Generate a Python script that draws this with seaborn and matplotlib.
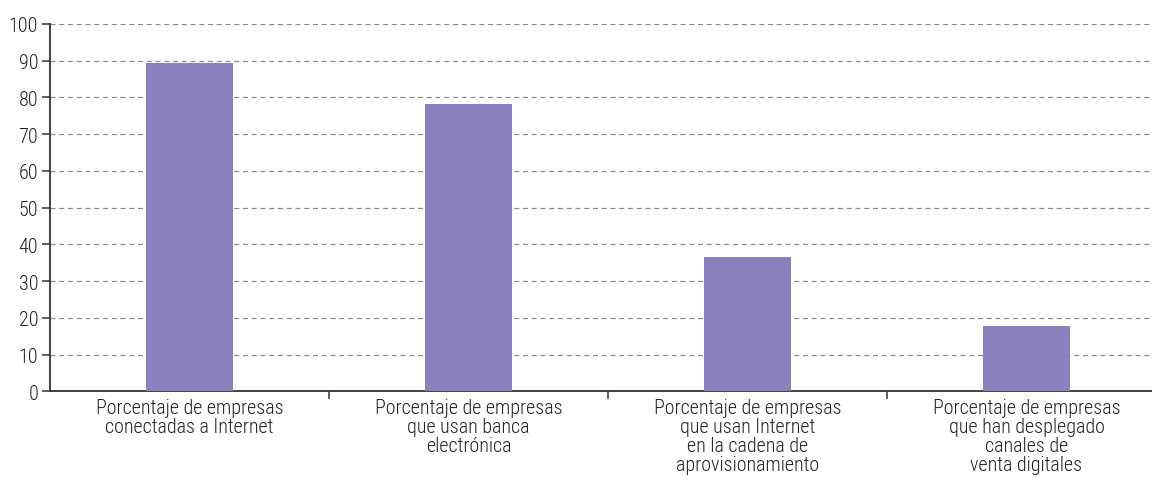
import pandas as pd
import seaborn as sns
import matplotlib.pyplot as plt
from matplotlib.ticker import FixedLocator

# datos
categorias = ['Porcentaje de empresas\nconectadas a Internet',
              'Porcentaje de empresas\nque usan banca\nelectrónica',
              'Porcentaje de empresas\nque usan Internet\nen la cadena de\naprovisionamiento',
              'Porcentaje de empresas\nque han desplegado\ncanales de\nventa digitales']
valores = [89.3, 78.2, 36.6, 17.8]
yticks = list(range(0, 101, 10))

df = pd.DataFrame({'cat': categorias, 'val': valores})

sns.set_style('white')
plt.rcParams['font.family'] = ['Roboto Condensed', 'Archivo Narrow', 'DejaVu Sans']
plt.rcParams['font.weight'] = 'light'

fig = plt.figure(figsize=(11.52, 4.85), dpi=100)
ax = fig.add_axes([50/1152, 92.7/485, 1116/1152, 367.3/485])

sns.barplot(data=df, x='cat', y='val', color='#8781bd', width=0.31,
            saturation=1, linewidth=0, ax=ax, zorder=3)

ax.set_xlim(-0.5, 3.5)
ax.set_ylim(0, 100)
ax.set_yticks(yticks)
ax.set(xlabel=None, ylabel=None)
ax.yaxis.grid(True, linestyle=(0, (4, 3)), color='#8c8c8c', linewidth=0.9, zorder=0)
ax.set_axisbelow(True)

for s in ['top', 'right']:
    ax.spines[s].set_visible(False)
ax.spines['left'].set_color('#333333')
ax.spines['bottom'].set_color('#333333')
ax.spines['left'].set_linewidth(1.3)
ax.spines['bottom'].set_linewidth(1.3)

ax.tick_params(axis='y', left=True, length=6, width=1.1, color='#333333',
               labelsize=14.5, labelcolor='#222222', pad=2.5)
ax.tick_params(axis='x', which='major', length=0, labelsize=14.4,
               labelcolor='#222222', pad=5)
ax.xaxis.set_minor_locator(FixedLocator([0.5, 1.5, 2.5]))
ax.tick_params(axis='x', which='minor', bottom=True, length=6, width=1.1,
               color='#333333')
for t in ax.get_xticklabels():
    t.set_linespacing(1.0)

fig.savefig('out.png', dpi=100)
